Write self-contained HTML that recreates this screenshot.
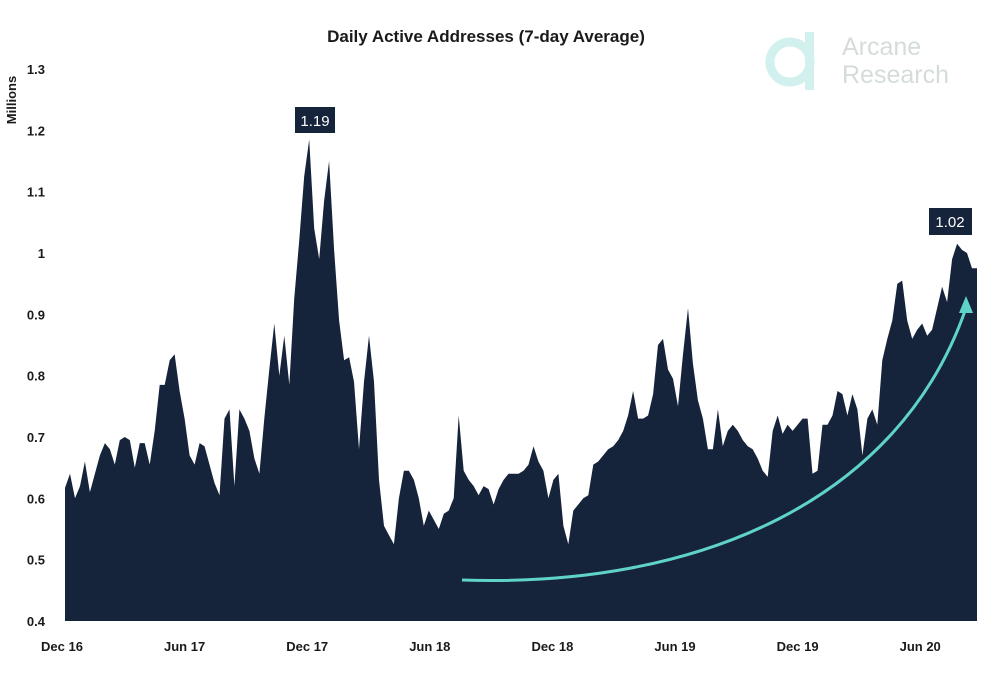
<!DOCTYPE html>
<html><head><meta charset="utf-8"><style>
body{margin:0;background:#fff;font-family:"Liberation Sans",sans-serif}
svg{display:block}
</style></head><body>
<svg width="1000" height="674" viewBox="0 0 1000 674">
<text x="486" y="42" text-anchor="middle" font-size="17" font-weight="bold" fill="#1a1a1a">Daily Active Addresses (7-day Average)</text>
<g opacity="0.35">
<circle cx="790" cy="62" r="20" fill="none" stroke="#7fd6cc" stroke-width="9"/>
<rect x="805" y="32" width="9" height="58" fill="#7fd6cc"/>
<text x="842" y="55" font-size="25" fill="#8a9a9a">Arcane</text>
<text x="842" y="83" font-size="25" fill="#8a9a9a">Research</text>
</g>
<text transform="translate(16,100) rotate(-90)" text-anchor="middle" font-size="13" font-weight="bold" fill="#1a1a1a">Millions</text>
<g id="yt"></g><g id="xt"></g>
<path id="area" fill="#15233b"/>
<path d="M462,580 C700,588 900,500 966,308" fill="none" stroke="#5fd3c8" stroke-width="3"/>
<polygon points="966,296 959,313 973,313" fill="#5fd3c8"/>
<g><rect x="295" y="107" width="40" height="26" fill="#15233b"/><text x="315" y="126" text-anchor="middle" font-size="15" fill="#fff">1.19</text></g>
<g><rect x="929" y="208" width="43" height="27" fill="#15233b"/><text x="950" y="227" text-anchor="middle" font-size="15" fill="#fff">1.02</text></g>
</svg>
<script>
const values=[0.617,0.64,0.60,0.62,0.66,0.61,0.64,0.67,0.69,0.68,0.655,0.695,0.70,0.695,0.65,0.69,0.69,0.655,
0.71,0.785,0.785,0.825,0.835,0.775,0.73,0.67,0.655,0.69,0.685,0.655,0.625,0.605,0.73,0.745,0.62,0.745,0.73,0.71,0.665,0.64,
0.73,0.81,0.885,0.80,0.865,0.785,0.925,1.02,1.125,1.185,1.04,0.99,1.085,1.15,1.005,0.89,0.825,0.83,0.79,0.68,0.79,0.865,0.79,0.63,
0.555,0.54,0.525,0.60,0.645,0.645,0.63,0.60,0.555,0.58,0.565,0.55,0.575,0.58,0.60,0.735,0.645,0.63,0.62,0.605,0.62,0.615,0.59,0.615,0.63,0.64,0.64,
0.64,0.645,0.655,0.685,0.66,0.645,0.60,0.63,0.64,0.555,0.525,0.58,0.59,0.60,0.605,0.655,0.66,0.67,0.68,0.685,0.695,0.71,0.735,0.775,0.73,0.73,0.735,0.77,0.85,0.86,0.81,0.795,0.75,0.835,0.91,0.82,0.76,0.73,0.68,0.68,0.745,0.685,0.71,0.72,0.71,0.695,0.685,0.68,0.665,0.645,0.635,
0.71,0.735,0.705,0.72,0.71,0.72,0.73,0.73,0.64,0.645,0.72,0.72,0.735,0.775,0.77,0.735,0.77,0.745,0.67,0.73,0.745,0.72,0.825,0.86,0.89,0.95,0.955,0.89,0.86,0.875,0.885,0.865,0.875,0.91,0.945,0.92,0.99,1.015,1.005,1.0,0.975,0.975];
const yTicks=[0.4,0.5,0.6,0.7,0.8,0.9,1,1.1,1.2,1.3];
const xLabels=["Dec 16","Jun 17","Dec 17","Jun 18","Dec 18","Jun 19","Dec 19","Jun 20"];
const NS="http://www.w3.org/2000/svg";
const X0=65,X1=977,Y0=621,Y1=69;
const yS=v=>Y0-(v-0.4)/(1.3-0.4)*(Y0-Y1);
const xS=i=>X0+i*(X1-X0)/(values.length-1);
const yt=document.getElementById('yt');
yTicks.forEach(t=>{const e=document.createElementNS(NS,'text');
e.setAttribute('x',45);e.setAttribute('y',yS(t)+5);e.setAttribute('text-anchor','end');e.setAttribute('font-size','13');e.setAttribute('font-weight','bold');e.setAttribute('fill','#1a1a1a');


e.textContent=String(t);yt.appendChild(e);});
const xt=document.getElementById('xt');
const xPos=k=>62+k*122.6;
xLabels.forEach((l,k)=>{const e=document.createElementNS(NS,'text');
e.setAttribute('x',xPos(k));e.setAttribute('y',651);e.setAttribute('text-anchor','middle');e.setAttribute('font-size','13');e.setAttribute('font-weight','bold');e.setAttribute('fill','#1a1a1a');


e.textContent=l;xt.appendChild(e);});
let d='M'+X0+','+Y0;
values.forEach((v,i)=>{d+=' L'+xS(i).toFixed(1)+','+yS(v).toFixed(1);});
d+=' L'+X1+','+Y0+' Z';
document.getElementById('area').setAttribute('d',d);
</script>
</body></html>
